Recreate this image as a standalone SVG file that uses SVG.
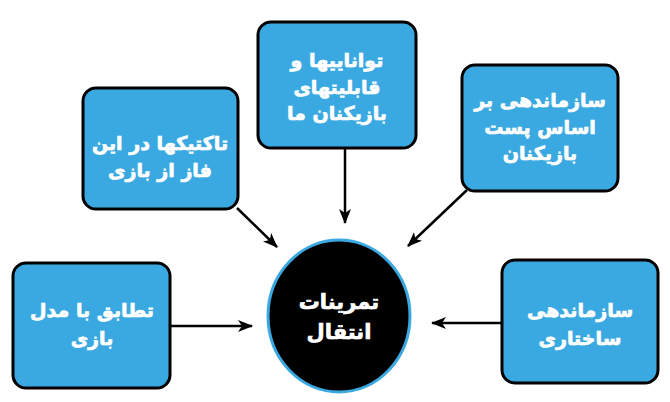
<svg xmlns="http://www.w3.org/2000/svg" width="670" height="402" viewBox="0 0 670 402">
<defs>
<style>
.box{fill:#3ba9e1;stroke:#000;stroke-width:3}
.t{font-family:"DejaVu Sans",sans-serif;font-weight:bold;font-size:19px;fill:#fff;stroke:#fff;stroke-width:0.7;text-anchor:middle}
.c{stroke:#000;stroke-width:2.5;fill:none;marker-end:url(#ah)}
</style>
<marker id="ah" markerWidth="16" markerHeight="12" refX="14" refY="6" orient="auto" markerUnits="userSpaceOnUse">
<path d="M0,0 L15,6 L0,12 L4,6 Z" fill="#000"/>
</marker>
</defs>
<rect width="670" height="402" fill="#fff"/>
<g id="connectors">
<line class="c" x1="170" y1="326" x2="252" y2="326"/>
<line class="c" x1="237" y1="208" x2="277" y2="247"/>
<line class="c" x1="345" y1="148" x2="345" y2="223"/>
<line class="c" x1="467" y1="190" x2="408" y2="246"/>
<line class="c" x1="502" y1="323" x2="432" y2="323"/>
</g>
<g id="n1">
<rect class="box" x="13" y="263" width="157" height="125" rx="13"/>
<text class="t" x="92" y="317">تطابق با مدل</text>
<text class="t" x="92" y="345">بازی</text>
</g>
<g id="n2">
<rect class="box" x="83" y="88" width="155" height="121" rx="13"/>
<text class="t" x="160" y="150">تاکتیکها در این</text>
<text class="t" x="160" y="177">فاز از بازی</text>
</g>
<g id="n3">
<rect class="box" x="258" y="22" width="158" height="126" rx="13"/>
<text class="t" x="337" y="67">تواناییها و</text>
<text class="t" x="337" y="94">قابلیتهای</text>
<text class="t" x="337" y="120">بازیکنان ما</text>
</g>
<g id="n4">
<rect class="box" x="462" y="65" width="156" height="126" rx="13"/>
<text class="t" x="540" y="107">سازماندهی بر</text>
<text class="t" x="540" y="134">اساس پست</text>
<text class="t" x="540" y="160">بازیکنان</text>
</g>
<g id="n5">
<rect class="box" x="502" y="260" width="156" height="123" rx="13"/>
<text class="t" x="580" y="317">سازماندهی</text>
<text class="t" x="580" y="345">ساختاری</text>
</g>
<g id="center">
<ellipse cx="339" cy="316" rx="71" ry="76" fill="#000" stroke="#3ba9e1" stroke-width="3"/>
<text class="t" x="339" y="309" style="font-size:21px">تمرینات</text>
<text class="t" x="339" y="339" style="font-size:21px">انتقال</text>
</g>
</svg>
